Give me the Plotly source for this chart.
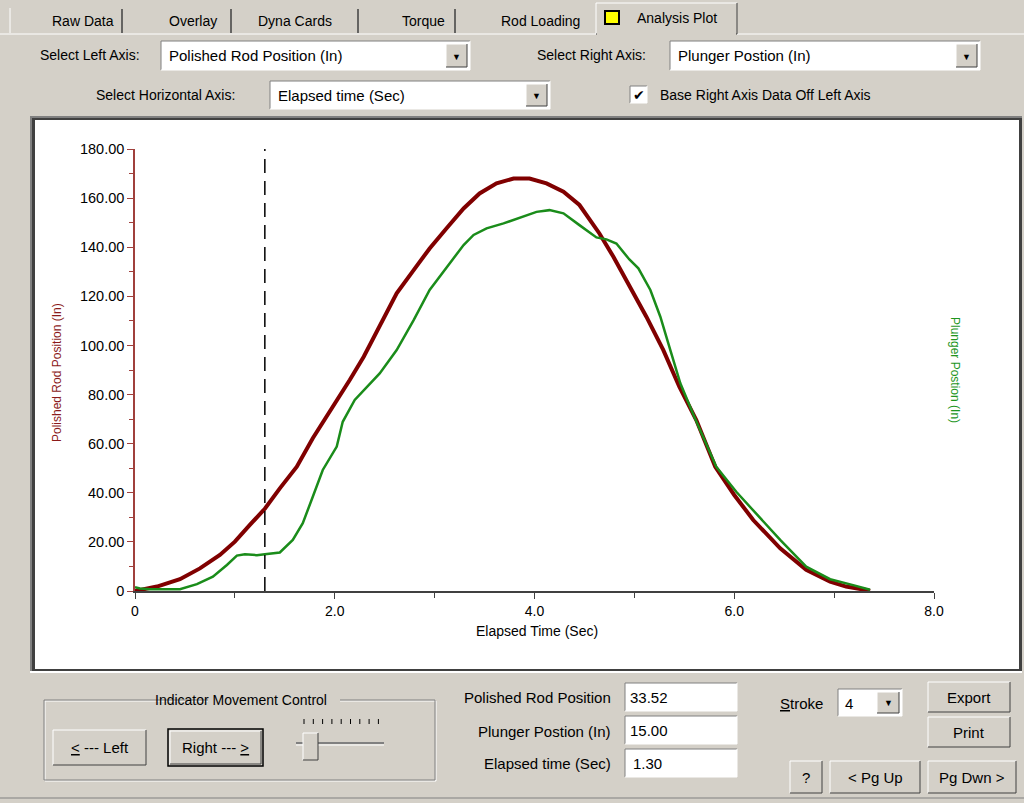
import plotly.graph_objects as go

# ---------------- data ----------------
t_rod = [0, 0.22, 0.45, 0.65, 0.85, 1.0, 1.15, 1.3, 1.45, 1.62, 1.78, 1.95, 2.05, 2.15,
         2.29, 2.45, 2.62, 2.79, 2.95, 3.12, 3.29, 3.45, 3.62, 3.79, 3.95, 4.12, 4.29,
         4.45, 4.65, 4.79, 4.95, 5.12, 5.29, 5.45, 5.62, 5.75, 5.81, 6.0, 6.19, 6.46,
         6.72, 6.96, 7.12, 7.32, 7.36]
rod_pos = [0, 1.8, 4.8, 9.2, 14.7, 20.1, 26.9, 33.5, 41.8, 50.6, 62.2, 73.0, 79.8, 85.9,
           95.4, 107.6, 121.2, 130.7, 139.5, 147.7, 155.8, 161.9, 166.0, 168.0, 168.0,
           166.0, 162.6, 157.2, 145.6, 136.1, 124.2, 111.7, 98.1, 83.2, 69.6, 56.0, 50.6,
           39.1, 28.9, 17.4, 8.6, 3.8, 1.8, 0.4, 0.0]

t_plg = [0, 0.05, 0.15, 0.45, 0.62, 0.78, 0.92, 1.02, 1.1, 1.22, 1.3, 1.45, 1.58, 1.68,
         1.78, 1.88, 2.02, 2.08, 2.2, 2.3, 2.45, 2.62, 2.79, 2.95, 3.12, 3.29, 3.39, 3.52,
         3.69, 3.85, 4.02, 4.15, 4.29, 4.45, 4.62, 4.72, 4.82, 4.95, 5.04, 5.16, 5.26,
         5.36, 5.46, 5.6, 5.82, 6.02, 6.22, 6.46, 6.72, 6.96, 7.19, 7.32, 7.36]
plg_pos = [1.5, 1.0, 0.7, 0.7, 2.8, 5.8, 10.6, 14.4, 15.0, 14.6, 15.0, 15.7, 20.8, 27.6,
           38.4, 49.3, 58.8, 68.9, 77.8, 82.0, 88.6, 98.1, 110.3, 122.6, 132.0, 140.9,
           145.0, 147.7, 149.7, 152.1, 154.4, 155.1, 153.8, 149.0, 144.0, 143.2, 141.5,
           135.0, 131.4, 122.6, 111.7, 98.1, 84.6, 71.0, 50.6, 40.4, 31.6, 20.8, 9.9,
           4.8, 2.4, 1.1, 0.5]

indicator_t = 1.30
y_ticks = [0, 20, 40, 60, 80, 100, 120, 140, 160, 180]
y_labels = ["0", "20.00", "40.00", "60.00", "80.00", "100.00", "120.00", "140.00", "160.00", "180.00"]
x_ticks = [0, 2, 4, 6, 8]
x_labels = ["0", "2.0", "4.0", "6.0", "8.0"]
tabs = ["Raw Data", "Overlay", "Dyna Cards", "Torque", "Rod Loading"]

# ---------------- layout helpers ----------------
W, H = 1024, 803
BG = "#d4d0c8"
UI = "Liberation Sans Narrow, Arial Narrow, Liberation Sans, Arial"
SANS = "Liberation Sans, Arial, sans-serif"

def X(px):
    return px / W

def Y(py):
    return 1 - py / H

shapes = []
annots = []

def rect(x0, y0, x1, y1, fill=None, line=None, lw=1):
    shapes.append(dict(type="rect", xref="paper", yref="paper",
                       x0=X(x0), x1=X(x1), y0=Y(y1), y1=Y(y0),
                       fillcolor=fill if fill else "rgba(0,0,0,0)",
                       line=dict(color=line if line else "rgba(0,0,0,0)", width=lw if line else 0),
                       layer="below"))

def hline(x0, x1, y, color, lw=1, layer="below"):
    shapes.append(dict(type="line", xref="paper", yref="paper", x0=X(x0), x1=X(x1),
                       y0=Y(y), y1=Y(y), line=dict(color=color, width=lw), layer=layer))

def vline(x, y0, y1, color, lw=1, layer="below"):
    shapes.append(dict(type="line", xref="paper", yref="paper", x0=X(x), x1=X(x),
                       y0=Y(y0), y1=Y(y1), line=dict(color=color, width=lw), layer=layer))

def bevel(x0, y0, x1, y1, raised=True, fill=BG):
    rect(x0, y0, x1, y1, fill=fill)
    lt, rb = ("#ffffff", "#404040") if raised else ("#808080", "#ffffff")
    hline(x0, x1, y0, lt)
    vline(x0, y0, y1, lt)
    hline(x0, x1, y1, rb)
    vline(x1, y0, y1, rb)

def text(x, y, s, size=15, color="black", anchor="left", family=UI, angle=0):
    annots.append(dict(x=X(x), y=Y(y), xref="paper", yref="paper", text=s,
                       showarrow=False, xanchor=anchor, yanchor="middle",
                       textangle=angle, font=dict(family=family, size=size, color=color)))

def dropdown(x0, y0, x1, y1, label):
    bevel(x0, y0, x1, y1, raised=False, fill="white")
    bevel(x1 - 24, y0 + 3, x1 - 3, y1 - 3, raised=True)
    text(x0 + 6, (y0 + y1) / 2, label)
    text(x1 - 13.5, (y0 + y1) / 2 + 1, "▼", size=9, anchor="center", family=SANS)

# ---------------- tabs ----------------
hline(0, 596, 34, "#ffffff")
hline(737, W, 34, "#ffffff")
tab_centers = [83, 193, 295, 423, 540]
tab_seps = [122, 231, 358, 455]
for c, s in zip(tab_centers, tabs):
    text(c, 21, s, size=14, anchor="center")
for s in tab_seps:
    vline(s, 9, 33, "#404040", lw=1.5, layer="above")
vline(10, 8, 33, "#ffffff")
# active tab
bevel(596, 3, 737, 34, raised=True)
hline(597, 736, 34, BG, lw=2)
rect(605, 11, 619, 24, fill="#ffff00", line="black", lw=2)
text(677, 18, "Analysis Plot", size=14, anchor="center")

# ---------------- selectors ----------------
text(38, 55, "Select Left Axis:", size=14)
dropdown(161, 41, 470, 70, "Polished Rod Position (In)")
text(535, 55, "Select Right Axis:", size=14)
dropdown(670, 41, 980, 70, "Plunger Postion (In)")
text(94, 95, "Select Horizontal Axis:", size=14)
dropdown(270, 81, 550, 109, "Elapsed time (Sec)")
bevel(630, 86, 647, 103, raised=False, fill="white")
text(638.5, 95, "✔", size=14, anchor="center", family="DejaVu Sans")
text(658, 95, "Base Right Axis Data Off Left Axis", size=14)

# ---------------- plot panel ----------------
rect(30, 116, 1022, 672, fill="#808080")
rect(32, 118, 1022, 672, fill="#404040")
rect(35, 120, 1019, 669, fill="white")
hline(30, 1022, 672, "#ffffff", lw=2)

# ---------------- bottom controls ----------------
rect(45, 701, 436, 781, line="#ffffff")
rect(44, 700, 435, 780, line="#808080")
rect(208, 690, 340, 710, fill=BG)
text(241, 700, "Indicator Movement Control", size=14, anchor="center")

bevel(53, 730, 146, 765, raised=True)
text(99.5, 747, "<u>&lt;</u> --- Left", anchor="center")
rect(168, 729, 263, 766, line="black", lw=1.5)
bevel(170, 731, 261, 764, raised=True)
text(215.5, 747, "Right --- <u>&gt;</u>", anchor="center")
# slider
hline(296, 384, 743, "#808080", lw=2)
hline(296, 384, 745, "#ffffff", lw=1)
for i in range(9):
    vline(304 + i * 9.3, 719, 724, "#000000")
bevel(303, 733, 318, 760, raised=True)

text(613, 697, "Polished Rod Position", anchor="right")
bevel(625, 683, 737, 711, raised=False, fill="white")
text(628, 697, "33.52")
text(613, 731, "Plunger Postion (In)", anchor="right")
bevel(625, 716, 737, 744, raised=False, fill="white")
text(628, 730, "15.00")
text(613, 763, "Elapsed time (Sec)", anchor="right")
bevel(625, 749, 737, 777, raised=False, fill="white")
text(631, 763, "1.30")

text(778, 703, "<u>S</u>troke")
bevel(838, 689, 902, 716, raised=False, fill="white")
bevel(877, 692, 899, 713, raised=True)
text(843, 703, "4")
text(888, 703, "▼", size=9, anchor="center", family=SANS)

bevel(928, 682, 1010, 712, raised=True)
text(969, 697, "Export", anchor="center")
bevel(928, 717, 1010, 747, raised=True)
text(969, 732, "Print", anchor="center")
bevel(790, 761, 822, 793, raised=True)
text(806, 777, "?", anchor="center")
bevel(830, 761, 920, 793, raised=True)
text(875, 777, "&lt; Pg Up", anchor="center")
bevel(928, 761, 1016, 793, raised=True)
text(972, 777, "Pg Dwn &gt;", anchor="center")
hline(0, W, 798, "#808080")

# ---------------- axis titles ----------------
text(57, 373, "Polished Rod Position (In)", size=12, color="#8b1a1a", anchor="center",
     family=SANS, angle=-90)
text(955, 370, "Plunger Postion (In)", size=12, color="#1e961e", anchor="center",
     family=SANS, angle=90)
text(537, 631, "Elapsed Time (Sec)", size=14, anchor="center")

# indicator line
shapes.append(dict(type="line", xref="x", yref="y", x0=indicator_t, x1=indicator_t,
                   y0=0, y1=180, line=dict(color="black", width=1.5, dash="14px,8px"),
                   layer="above"))

# ---------------- traces ----------------
fig = go.Figure()
fig.add_trace(go.Scatter(x=t_rod, y=rod_pos, mode="lines", name="Polished Rod Position (In)",
                         line=dict(color="#800000", width=4)))
fig.add_trace(go.Scatter(x=t_plg, y=plg_pos, mode="lines", name="Plunger Postion (In)",
                         line=dict(color="#1a8c1a", width=2.5)))

fig.update_layout(
    width=W, height=H,
    margin=dict(l=0, r=0, t=0, b=0, autoexpand=False),
    paper_bgcolor=BG,
    plot_bgcolor="rgba(0,0,0,0)",
    showlegend=False,
    shapes=shapes,
    annotations=annots,
    xaxis=dict(domain=[X(135), X(934)], range=[0, 8], tickvals=x_ticks, ticktext=x_labels,
               automargin=False,
               showgrid=False, zeroline=False, showline=True, linecolor="#404040", linewidth=1.5,
               ticks="outside", ticklen=6, tickcolor="#404040",
               minor=dict(tickvals=[1, 3, 5, 7], ticks="outside", ticklen=5, tickcolor="#404040"),
               tickfont=dict(family=UI, size=14, color="black"), fixedrange=True),
    yaxis=dict(domain=[Y(591), Y(149)], range=[0, 180], tickvals=y_ticks, ticktext=y_labels,
               automargin=False,
               showgrid=False, zeroline=False, showline=True, linecolor="#a0403c", linewidth=1.5,
               ticks="outside", ticklen=6, tickcolor="#a0403c",
               minor=dict(dtick=10, ticks="outside", ticklen=4, tickcolor="#a0403c"),
               tickfont=dict(family=SANS, size=14.5, color="black"), fixedrange=True),
)

fig.write_html("out.html")
